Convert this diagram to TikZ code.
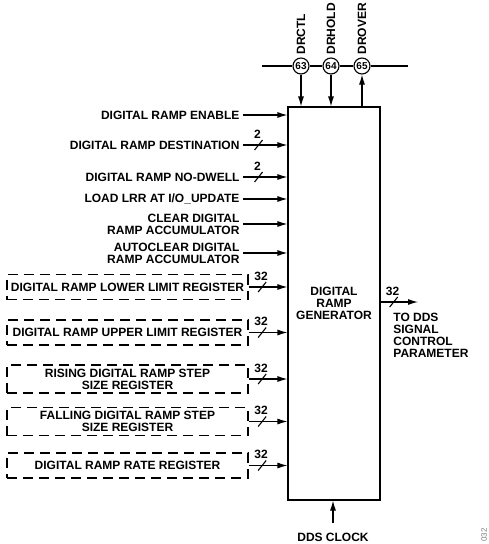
\documentclass[tikz,border=0pt]{standalone}
\usepackage{fontspec}
\setmainfont{Liberation Sans}
\usetikzlibrary{arrows.meta,positioning,decorations.markings}

\begin{document}
\begin{tikzpicture}[
  x=1pt, y=-1pt,
  every node/.style={font=\bfseries\fontsize{12}{12}\selectfont},
  sig/.style={anchor=east, align=right, inner sep=3pt},
  reg/.style={rectangle, draw, dash pattern=on 10pt off 6pt, minimum width=241pt, align=center, inner sep=2pt},
  pin/.style={circle, draw, fill=white, minimum size=16pt, inner sep=0pt, font=\bfseries\fontsize{10}{10}\selectfont},
  pinname/.style={rotate=90, anchor=west, inner sep=2.5pt},
  bus/.style={postaction={decorate, decoration={markings, mark=at position 0.35 with {\draw[-] (-4pt,-5pt) -- (4pt,5pt); \node at (-1pt,11pt) {#1};}}}},
  every path/.style={line width=1.1pt, >={Latex[length=10pt,width=6pt]}}
]
\useasboundingbox (0,0) rectangle (489,544);

% generator block
\node[draw, minimum width=92pt, minimum height=393pt, align=center] (gen) at (334,303.5) {DIGITAL\\RAMP\\GENERATOR};

% pins on the bus
\coordinate (busL) at (262,66);
\coordinate (busR) at (408,66);
\node[pin] (p63) at (301,66) {63};
\node[pin] (p64) at (331,66) {64};
\node[pin] (p65) at (362,66) {65};
\draw (busL) -- (p63) -- (p64) -- (p65) -- (busR);
\node[pinname] (drctl) at (p63.north) {DRCTL};
\node[pinname] (drhold) at (p64.north) {DRHOLD};
\node[pinname] (drover) at (p65.north) {DROVER};
\draw[->] (p63) -- (p63 |- gen.north);
\draw[->] (p64) -- (p64 |- gen.north);
\draw[->] (p65 |- gen.north) -- (p65);

% control inputs
\node[sig] (en) at (243,115) {DIGITAL RAMP ENABLE};
\node[sig] (dest) at (243,145) {DIGITAL RAMP DESTINATION};
\node[sig] (ndw) at (243,177) {DIGITAL RAMP NO-DWELL};
\node[sig] (lrr) at (243,199) {LOAD LRR AT I/O\_UPDATE};
\node[sig] (clr) at (243,224) {CLEAR DIGITAL\\RAMP ACCUMULATOR};
\node[sig] (aclr) at (243,253) {AUTOCLEAR DIGITAL\\RAMP ACCUMULATOR};

\draw[->] (en.east) -- (en.east -| gen.west);
\draw[->, bus=2] (dest.east) -- (dest.east -| gen.west);
\draw[->, bus=2] (ndw.east) -- (ndw.east -| gen.west);
\draw[->] (lrr.east) -- (lrr.east -| gen.west);
\draw[->] (clr.east) -- (clr.east -| gen.west);
\draw[->] (aclr.east) -- (aclr.east -| gen.west);

% registers
\node[reg, minimum height=25pt] (lower) at (127.5,287) {DIGITAL RAMP LOWER LIMIT REGISTER};
\node[reg, minimum height=25pt] (upper) at (127.5,332.5) {DIGITAL RAMP UPPER LIMIT REGISTER};
\node[reg, minimum height=28pt] (rise) at (127.5,379) {RISING DIGITAL RAMP STEP\\SIZE REGISTER};
\node[reg, minimum height=28pt] (fall) at (127.5,421.5) {FALLING DIGITAL RAMP STEP\\SIZE REGISTER};
\node[reg, minimum height=25pt] (rate) at (127.5,465.5) {DIGITAL RAMP RATE REGISTER};

\draw[->, bus=32] (lower.east) -- (lower.east -| gen.west);
\draw[->, bus=32] (upper.east) -- (upper.east -| gen.west);
\draw[->, bus=32] (rise.east) -- (rise.east -| gen.west);
\draw[->, bus=32] (fall.east) -- (fall.east -| gen.west);
\draw[->, bus=32] (rate.east) -- (rate.east -| gen.west);

% output
\coordinate (out) at (418,302);
\draw[->, bus=32] (out -| gen.east) -- (out);
\node[anchor=north west, align=left] (tdds) at (389.5,309.5) {TO DDS\\SIGNAL\\CONTROL\\PARAMETER};

% clock
\node (clk) at (333,537) {DDS CLOCK};
\draw[->] ([yshift=6pt]clk.north) -- (clk.north |- gen.south);

\node[rotate=90, font=\fontsize{8}{8}\selectfont, text=gray] (fig) at (484,535) {032};
\end{tikzpicture}
\end{document}
